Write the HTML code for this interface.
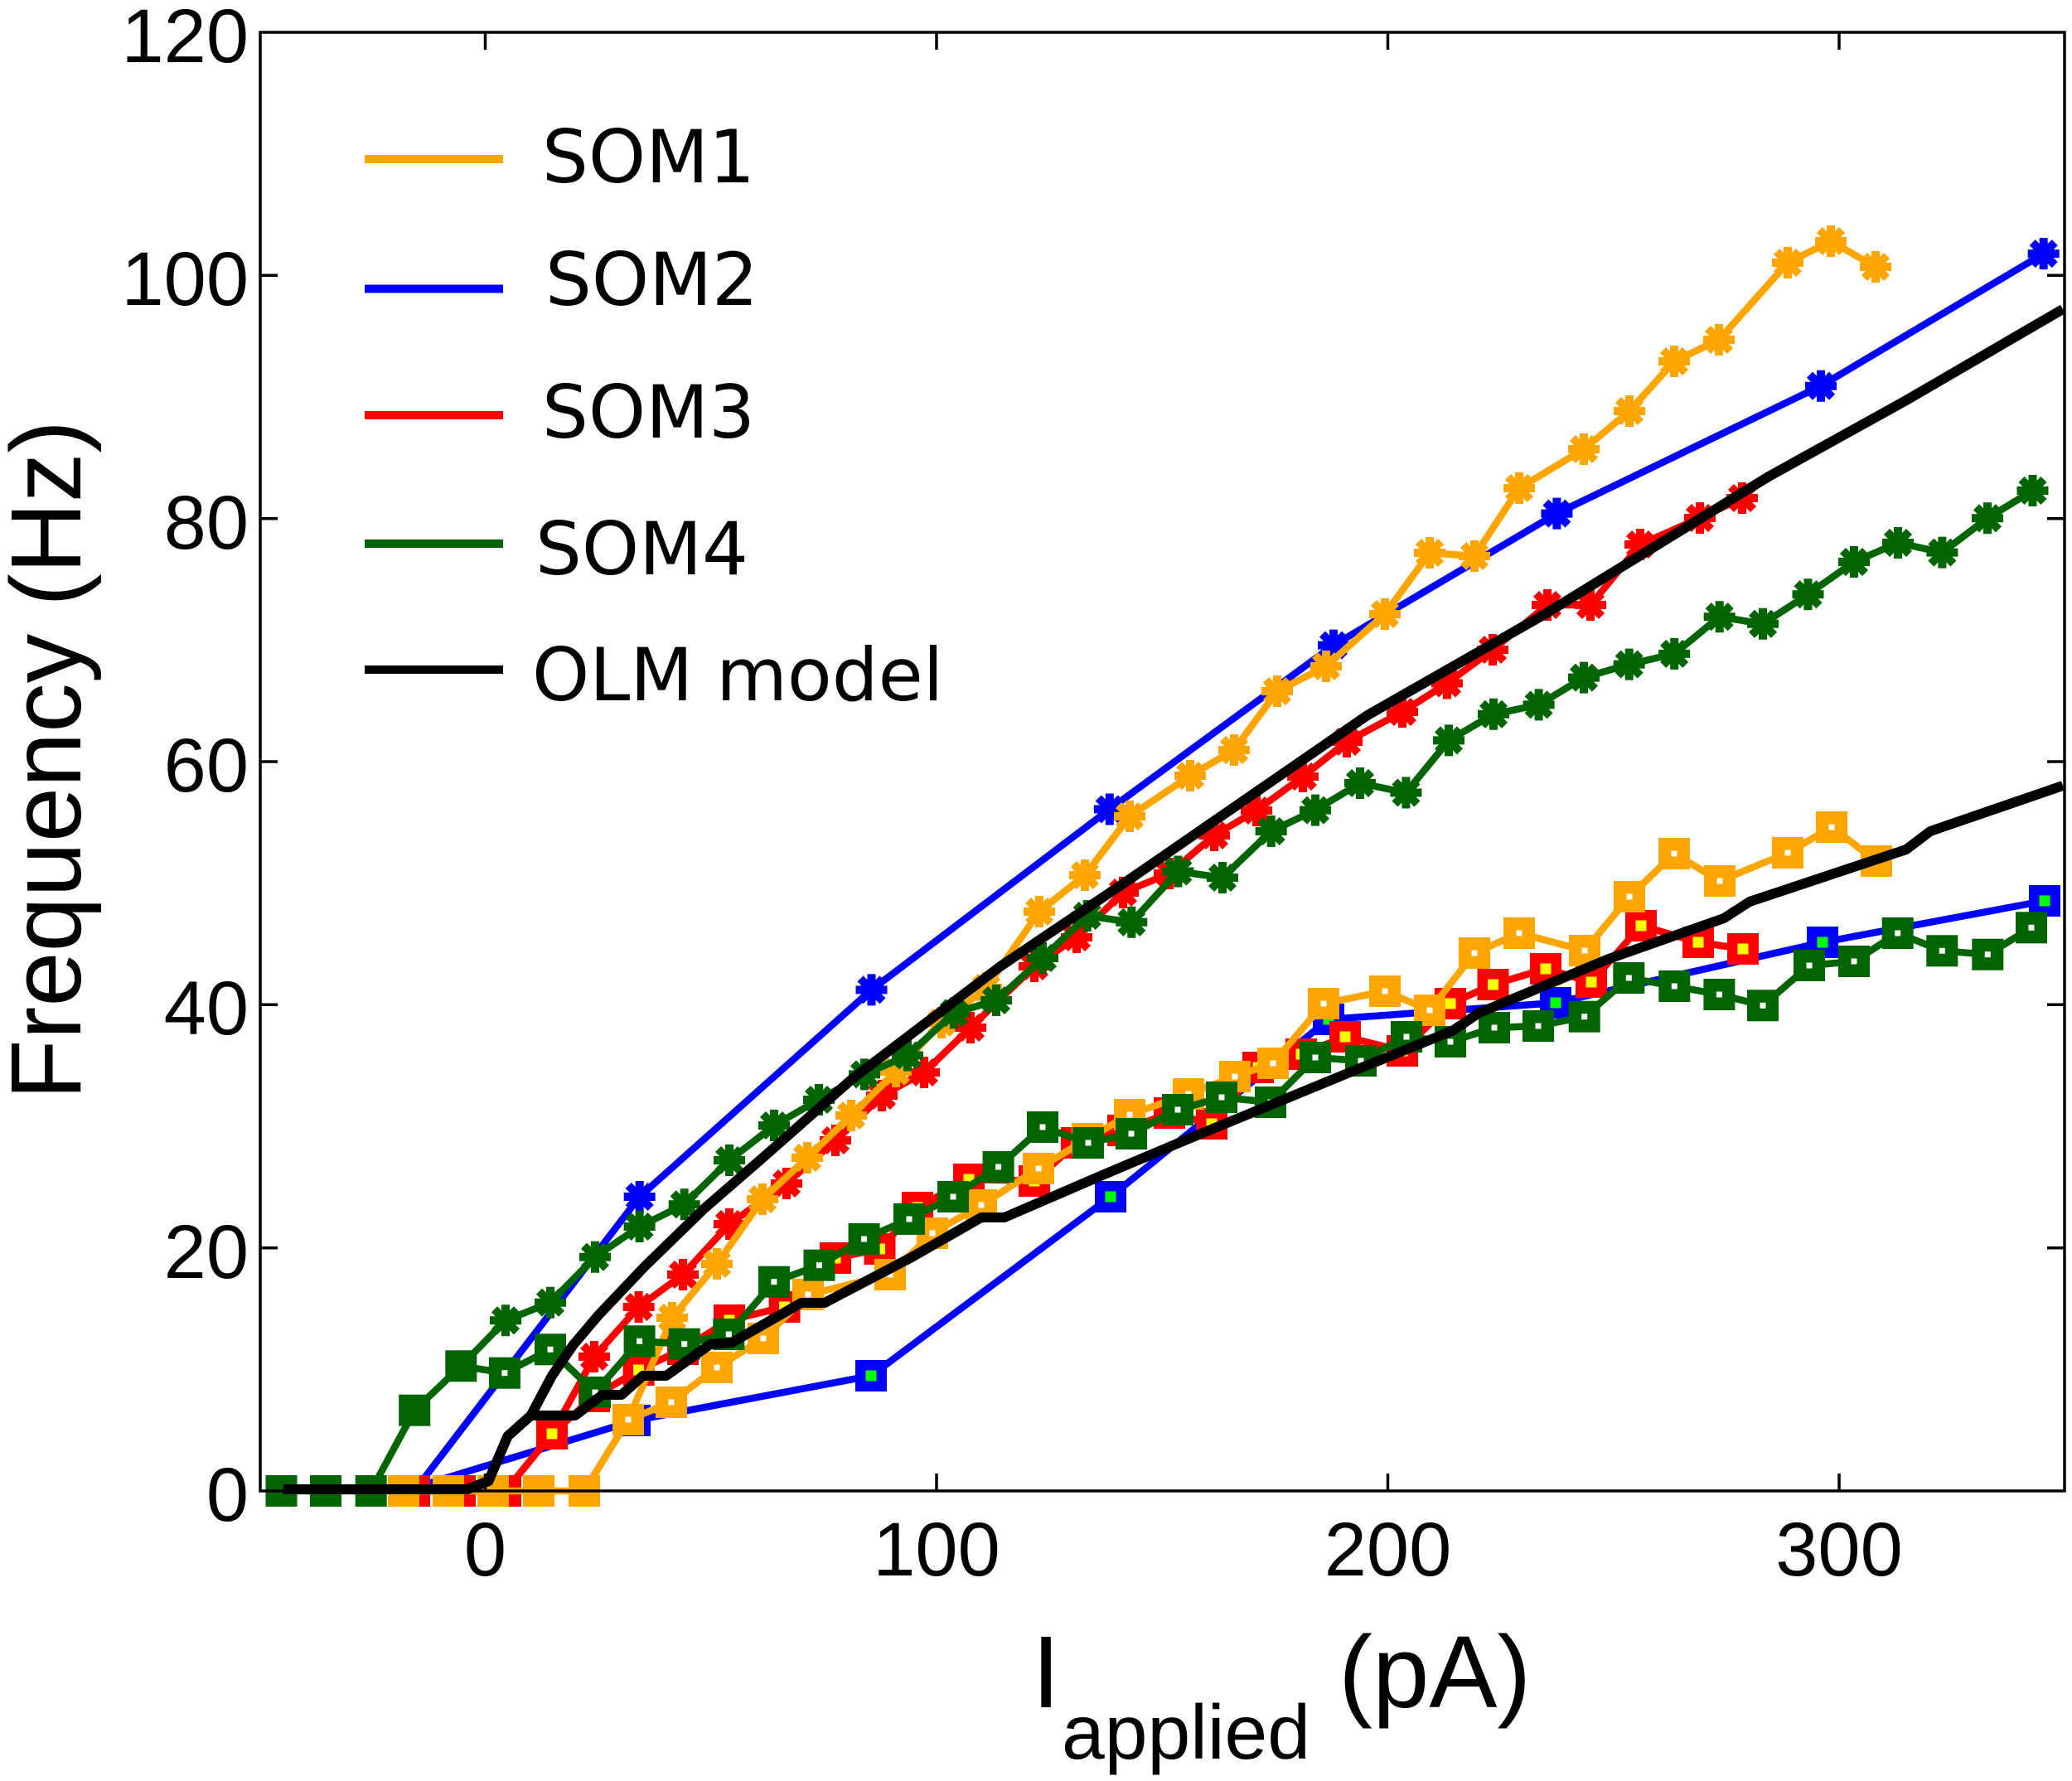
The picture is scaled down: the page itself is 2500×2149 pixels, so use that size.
<!DOCTYPE html>
<html><head><meta charset="utf-8"><style>
html,body{margin:0;padding:0;background:#fff;}
svg{display:block;}
</style></head><body>
<svg xmlns="http://www.w3.org/2000/svg" xmlns:xlink="http://www.w3.org/1999/xlink" width="2500" height="2149" viewBox="0 0 2500 2149">
<defs>
<g id="sqo"><rect x="-19" y="-19" width="38" height="38" fill="#FFA500"/><rect x="-3.5" y="-3.5" width="7" height="7" fill="#ffffff"/></g>
<g id="sqg"><rect x="-19" y="-19" width="38" height="38" fill="#006400"/><rect x="-3.5" y="-3.5" width="7" height="7" fill="#ffffff"/></g>
<g id="sqb"><rect x="-19" y="-19" width="38" height="38" fill="#0000ff"/><rect x="-6.5" y="-6.5" width="13" height="13" fill="#00ff00"/></g>
<g id="sqr"><rect x="-19" y="-19" width="38" height="38" fill="#ff0000"/><rect x="-6.5" y="-6.5" width="13" height="13" fill="#ffff00"/></g>
<rect id="zo" x="-19" y="-19" width="38" height="38" fill="#FFA500"/>
<rect id="zr" x="-19" y="-19" width="38" height="38" fill="#ff0000"/>
<rect id="zb" x="-19" y="-19" width="38" height="38" fill="#0000ff"/>
<rect id="zg" x="-19" y="-19" width="38" height="38" fill="#006400"/>
<g id="sto"><path d="M-19,0H19M0,-19V19M-13.5,-13.5L13.5,13.5M-13.5,13.5L13.5,-13.5" stroke="#FFA500" stroke-width="10"/><circle r="9" fill="#FFA500"/></g>
<g id="stb"><path d="M-19,0H19M0,-19V19M-13.5,-13.5L13.5,13.5M-13.5,13.5L13.5,-13.5" stroke="#0000ff" stroke-width="10"/><circle r="9" fill="#0000ff"/></g>
<g id="str"><path d="M-19,0H19M0,-19V19M-13.5,-13.5L13.5,13.5M-13.5,13.5L13.5,-13.5" stroke="#ff0000" stroke-width="10"/><circle r="9" fill="#ff0000"/></g>
<g id="stg"><path d="M-19,0H19M0,-19V19M-13.5,-13.5L13.5,13.5M-13.5,13.5L13.5,-13.5" stroke="#006400" stroke-width="10"/><circle r="9" fill="#006400"/></g>
</defs>

<!-- ===== SOM2 (blue) ===== -->
<g fill="none" stroke="#0000ff" stroke-width="8.5" stroke-linejoin="round">
<polyline points="487,1799 766,1714 1051,1660 1340,1444 1603,1230 1877,1210 2199,1137 2467,1087"/>
<polyline points="500,1799 771.7,1444 1051.5,1194.4 1338.8,976.5 1609,778.6 1878.4,619.6 2197,465.7 2465.7,306.1"/>
</g>
<use xlink:href="#zb" x="487" y="1799"/>
<use xlink:href="#sqb" x="766" y="1714"/><use xlink:href="#sqb" x="1051" y="1660"/><use xlink:href="#sqb" x="1340" y="1444"/><use xlink:href="#sqb" x="1603" y="1230"/><use xlink:href="#sqb" x="1877" y="1210"/><use xlink:href="#sqb" x="2199" y="1137"/><use xlink:href="#sqb" x="2467" y="1087"/>
<use xlink:href="#stb" x="771.7" y="1444"/><use xlink:href="#stb" x="1051.5" y="1194.4"/><use xlink:href="#stb" x="1338.8" y="976.5"/><use xlink:href="#stb" x="1609" y="778.6"/><use xlink:href="#stb" x="1878.4" y="619.6"/><use xlink:href="#stb" x="2197" y="465.7"/><use xlink:href="#stb" x="2465.7" y="306.1"/>

<!-- ===== SOM3 (red) ===== -->
<g fill="none" stroke="#ff0000" stroke-width="8.5" stroke-linejoin="round">
<polyline points="500,1799 555,1799 610,1799 666,1730 717,1685 770.6,1653 824,1628 880,1593 946.6,1577 1008,1518 1061.5,1507 1107,1457 1169,1423 1248,1425 1299,1379 1355,1364 1411,1343 1462,1356 1518,1288 1570,1272 1623,1251 1692,1268 1750,1211 1801.5,1188 1865,1169 1920,1185 1980,1117 2049,1137 2103,1145"/>
<polyline points="610,1799 666,1730 717,1637 770.6,1577 824,1538 880,1477 949,1428 1008,1376 1064,1322 1115,1294 1171,1240 1248,1166 1299,1131 1355,1077 1411,1054 1465,1008 1516,978 1572,937 1625,895 1692,859 1746,824.5 1801,784 1867,730 1919,730 1979,657 2051,625 2102,601"/>
</g>
<use xlink:href="#zr" x="500" y="1799"/><use xlink:href="#zr" x="555" y="1799"/><use xlink:href="#zr" x="610" y="1799"/>
<use xlink:href="#sqr" x="666" y="1730"/><use xlink:href="#sqr" x="717" y="1685"/><use xlink:href="#sqr" x="770.6" y="1653"/><use xlink:href="#sqr" x="824" y="1628"/><use xlink:href="#sqr" x="880" y="1593"/><use xlink:href="#sqr" x="946.6" y="1577"/><use xlink:href="#sqr" x="1008" y="1518"/><use xlink:href="#sqr" x="1061.5" y="1507"/><use xlink:href="#sqr" x="1107" y="1457"/><use xlink:href="#sqr" x="1169" y="1423"/><use xlink:href="#sqr" x="1248" y="1425"/><use xlink:href="#sqr" x="1299" y="1379"/><use xlink:href="#sqr" x="1355" y="1364"/><use xlink:href="#sqr" x="1411" y="1343"/><use xlink:href="#sqr" x="1462" y="1356"/><use xlink:href="#sqr" x="1518" y="1288"/><use xlink:href="#sqr" x="1570" y="1272"/><use xlink:href="#sqr" x="1623" y="1251"/><use xlink:href="#sqr" x="1692" y="1268"/><use xlink:href="#sqr" x="1750" y="1211"/><use xlink:href="#sqr" x="1801.5" y="1188"/><use xlink:href="#sqr" x="1865" y="1169"/><use xlink:href="#sqr" x="1920" y="1185"/><use xlink:href="#sqr" x="1980" y="1117"/><use xlink:href="#sqr" x="2049" y="1137"/><use xlink:href="#sqr" x="2103" y="1145"/>
<use xlink:href="#str" x="717" y="1637"/><use xlink:href="#str" x="770.6" y="1577"/><use xlink:href="#str" x="824" y="1538"/><use xlink:href="#str" x="880" y="1477"/><use xlink:href="#str" x="949" y="1428"/><use xlink:href="#str" x="1008" y="1376"/><use xlink:href="#str" x="1064" y="1322"/><use xlink:href="#str" x="1115" y="1294"/><use xlink:href="#str" x="1171" y="1240"/><use xlink:href="#str" x="1248" y="1166"/><use xlink:href="#str" x="1299" y="1131"/><use xlink:href="#str" x="1355" y="1077"/><use xlink:href="#str" x="1411" y="1054"/><use xlink:href="#str" x="1465" y="1008"/><use xlink:href="#str" x="1516" y="978"/><use xlink:href="#str" x="1572" y="937"/><use xlink:href="#str" x="1625" y="895"/><use xlink:href="#str" x="1692" y="859"/><use xlink:href="#str" x="1746" y="824.5"/><use xlink:href="#str" x="1801" y="784"/><use xlink:href="#str" x="1867" y="730"/><use xlink:href="#str" x="1919" y="730"/><use xlink:href="#str" x="1979" y="657"/><use xlink:href="#str" x="2051" y="625"/><use xlink:href="#str" x="2102" y="601"/>

<!-- ===== SOM1 (orange) ===== -->
<g fill="none" stroke="#FFA500" stroke-width="8.5" stroke-linejoin="round">
<polyline points="487,1799 541,1799 595,1799 650,1799 705,1799 758,1713 810,1692 865,1650 921,1615 975,1562 1074,1538 1125,1488 1184,1454 1253,1410 1312,1374 1363,1345 1434,1320 1490,1299 1536,1283 1597,1211 1671,1196 1725,1219 1779,1150 1833,1126 1912,1147 1966,1082 2020,1030 2075,1063 2157,1029 2210,998 2264,1039"/>
<polyline points="705,1799 758,1713 811,1590 865,1525 920,1447 974,1397 1027,1346 1081,1293 1136,1234 1190,1192 1254,1100 1309,1056 1363,985 1436,936 1489,905 1541,834 1600,804 1671,741 1725,667 1779,671 1833,589 1911,542 1966,496 2020,436 2074,410 2157,317 2209,291 2263,322"/>
</g>
<use xlink:href="#zo" x="487" y="1799"/><use xlink:href="#zo" x="541" y="1799"/><use xlink:href="#zo" x="595" y="1799"/><use xlink:href="#zo" x="650" y="1799"/><use xlink:href="#zo" x="705" y="1799"/>
<use xlink:href="#sqo" x="758" y="1713"/><use xlink:href="#sqo" x="810" y="1692"/><use xlink:href="#sqo" x="865" y="1650"/><use xlink:href="#sqo" x="921" y="1615"/><use xlink:href="#sqo" x="975" y="1562"/><use xlink:href="#sqo" x="1074" y="1538"/><use xlink:href="#sqo" x="1125" y="1488"/><use xlink:href="#sqo" x="1184" y="1454"/><use xlink:href="#sqo" x="1253" y="1410"/><use xlink:href="#sqo" x="1312" y="1374"/><use xlink:href="#sqo" x="1363" y="1345"/><use xlink:href="#sqo" x="1434" y="1320"/><use xlink:href="#sqo" x="1490" y="1299"/><use xlink:href="#sqo" x="1536" y="1283"/><use xlink:href="#sqo" x="1597" y="1211"/><use xlink:href="#sqo" x="1671" y="1196"/><use xlink:href="#sqo" x="1725" y="1219"/><use xlink:href="#sqo" x="1779" y="1150"/><use xlink:href="#sqo" x="1833" y="1126"/><use xlink:href="#sqo" x="1912" y="1147"/><use xlink:href="#sqo" x="1966" y="1082"/><use xlink:href="#sqo" x="2020" y="1030"/><use xlink:href="#sqo" x="2075" y="1063"/><use xlink:href="#sqo" x="2157" y="1029"/><use xlink:href="#sqo" x="2210" y="998"/><use xlink:href="#sqo" x="2264" y="1039"/>
<use xlink:href="#sto" x="811" y="1590"/><use xlink:href="#sto" x="865" y="1525"/><use xlink:href="#sto" x="920" y="1447"/><use xlink:href="#sto" x="974" y="1397"/><use xlink:href="#sto" x="1027" y="1346"/><use xlink:href="#sto" x="1081" y="1293"/><use xlink:href="#sto" x="1136" y="1234"/><use xlink:href="#sto" x="1190" y="1192"/><use xlink:href="#sto" x="1254" y="1100"/><use xlink:href="#sto" x="1309" y="1056"/><use xlink:href="#sto" x="1363" y="985"/><use xlink:href="#sto" x="1436" y="936"/><use xlink:href="#sto" x="1489" y="905"/><use xlink:href="#sto" x="1541" y="834"/><use xlink:href="#sto" x="1600" y="804"/><use xlink:href="#sto" x="1671" y="741"/><use xlink:href="#sto" x="1725" y="667"/><use xlink:href="#sto" x="1779" y="671"/><use xlink:href="#sto" x="1833" y="589"/><use xlink:href="#sto" x="1911" y="542"/><use xlink:href="#sto" x="1966" y="496"/><use xlink:href="#sto" x="2020" y="436"/><use xlink:href="#sto" x="2074" y="410"/><use xlink:href="#sto" x="2157" y="317"/><use xlink:href="#sto" x="2209" y="291"/><use xlink:href="#sto" x="2263" y="322"/>

<!-- ===== SOM4 (dark green) ===== -->
<g fill="none" stroke="#006400" stroke-width="8.5" stroke-linejoin="round">
<polyline points="339.5,1799 393,1799 447.7,1799 500.2,1701.7 556.3,1648.3 608.9,1656.7 664,1628.3 718,1680 771.6,1618.3 825.7,1621.7 879.3,1610 933.9,1546.7 988.5,1526.7 1042.6,1495 1097,1471 1150,1444 1204.6,1408 1258,1360 1313,1379 1365,1368 1421,1339 1474,1324 1533,1330 1587,1276 1642,1280 1697,1251 1750,1257 1803,1240 1856,1238 1911.7,1226.7 1965.3,1180 2020.3,1190 2074.4,1200 2127,1213.3 2183,1165 2237,1160 2289.7,1126 2343.3,1147.3 2398.3,1151.7 2451,1119.3"/>
<polyline points="556.3,1648.3 610,1593.3 664,1571.7 718,1516.7 771.6,1480 825.7,1453.3 880,1400 934,1358 988,1327 1043,1296.4 1095,1273.5 1151,1222.4 1202,1207 1258,1156 1311.7,1105 1365.3,1112.8 1421.4,1051.5 1475,1059 1533.7,1003 1587,977.6 1641,945 1696.4,956.5 1748,893.4 1802,861.8 1856.6,850.4 1911,817.6 1965.7,801.6 2020.2,788.9 2074.7,744.2 2127,752.8 2181.5,717.2 2237,678 2290,655 2343.4,666.6 2398,625.3 2452.5,592"/>
</g>
<use xlink:href="#zg" x="339.5" y="1799"/><use xlink:href="#zg" x="393" y="1799"/><use xlink:href="#zg" x="447.7" y="1799"/><use xlink:href="#zg" x="500.2" y="1701.7"/><use xlink:href="#zg" x="556.3" y="1648.3"/>
<use xlink:href="#sqg" x="608.9" y="1656.7"/><use xlink:href="#sqg" x="664" y="1628.3"/><use xlink:href="#sqg" x="718" y="1680"/><use xlink:href="#sqg" x="771.6" y="1618.3"/><use xlink:href="#sqg" x="825.7" y="1621.7"/><use xlink:href="#sqg" x="879.3" y="1610"/><use xlink:href="#sqg" x="933.9" y="1546.7"/><use xlink:href="#sqg" x="988.5" y="1526.7"/><use xlink:href="#sqg" x="1042.6" y="1495"/><use xlink:href="#sqg" x="1097" y="1471"/><use xlink:href="#sqg" x="1150" y="1444"/><use xlink:href="#sqg" x="1204.6" y="1408"/><use xlink:href="#sqg" x="1258" y="1360"/><use xlink:href="#sqg" x="1313" y="1379"/><use xlink:href="#sqg" x="1365" y="1368"/><use xlink:href="#sqg" x="1421" y="1339"/><use xlink:href="#sqg" x="1474" y="1324"/><use xlink:href="#sqg" x="1533" y="1330"/><use xlink:href="#sqg" x="1587" y="1276"/><use xlink:href="#sqg" x="1642" y="1280"/><use xlink:href="#sqg" x="1697" y="1251"/><use xlink:href="#sqg" x="1750" y="1257"/><use xlink:href="#sqg" x="1803" y="1240"/><use xlink:href="#sqg" x="1856" y="1238"/><use xlink:href="#sqg" x="1911.7" y="1226.7"/><use xlink:href="#sqg" x="1965.3" y="1180"/><use xlink:href="#sqg" x="2020.3" y="1190"/><use xlink:href="#sqg" x="2074.4" y="1200"/><use xlink:href="#sqg" x="2127" y="1213.3"/><use xlink:href="#sqg" x="2183" y="1165"/><use xlink:href="#sqg" x="2237" y="1160"/><use xlink:href="#sqg" x="2289.7" y="1126"/><use xlink:href="#sqg" x="2343.3" y="1147.3"/><use xlink:href="#sqg" x="2398.3" y="1151.7"/><use xlink:href="#sqg" x="2451" y="1119.3"/>
<use xlink:href="#stg" x="610" y="1593.3"/><use xlink:href="#stg" x="664" y="1571.7"/><use xlink:href="#stg" x="718" y="1516.7"/><use xlink:href="#stg" x="771.6" y="1480"/><use xlink:href="#stg" x="825.7" y="1453.3"/><use xlink:href="#stg" x="880" y="1400"/><use xlink:href="#stg" x="934" y="1358"/><use xlink:href="#stg" x="988" y="1327"/><use xlink:href="#stg" x="1043" y="1296.4"/><use xlink:href="#stg" x="1095" y="1273.5"/><use xlink:href="#stg" x="1151" y="1222.4"/><use xlink:href="#stg" x="1202" y="1207"/><use xlink:href="#stg" x="1258" y="1156"/><use xlink:href="#stg" x="1311.7" y="1105"/><use xlink:href="#stg" x="1365.3" y="1112.8"/><use xlink:href="#stg" x="1421.4" y="1051.5"/><use xlink:href="#stg" x="1475" y="1059"/><use xlink:href="#stg" x="1533.7" y="1003"/><use xlink:href="#stg" x="1587" y="977.6"/><use xlink:href="#stg" x="1641" y="945"/><use xlink:href="#stg" x="1696.4" y="956.5"/><use xlink:href="#stg" x="1748" y="893.4"/><use xlink:href="#stg" x="1802" y="861.8"/><use xlink:href="#stg" x="1856.6" y="850.4"/><use xlink:href="#stg" x="1911" y="817.6"/><use xlink:href="#stg" x="1965.7" y="801.6"/><use xlink:href="#stg" x="2020.2" y="788.9"/><use xlink:href="#stg" x="2074.7" y="744.2"/><use xlink:href="#stg" x="2127" y="752.8"/><use xlink:href="#stg" x="2181.5" y="717.2"/><use xlink:href="#stg" x="2237" y="678"/><use xlink:href="#stg" x="2290" y="655"/><use xlink:href="#stg" x="2343.4" y="666.6"/><use xlink:href="#stg" x="2398" y="625.3"/><use xlink:href="#stg" x="2452.5" y="592"/>

<!-- ===== OLM model (black) ===== -->
<g fill="none" stroke="#000" stroke-width="12" stroke-linejoin="round">
<polyline points="342,1797 564,1797 589.5,1787 612.5,1733 640.5,1708 694,1708 727,1683 750,1683 775.7,1660 803.8,1660 857,1622 883,1620 967,1572 995,1572 1100,1517 1184,1469 1212,1469 1330,1418 1432,1375 1626,1295 1753,1243.5 1784,1222.5 1941,1157 2080,1108 2111,1088 2300,1025 2329,1003 2489,948"/>
<polyline points="342,1797 564,1797 589.5,1787 612.5,1733 640.5,1708 666,1660 691.5,1623 722,1587 778,1528 850,1458 926,1392 1028,1302 1207,1166 1360,1063 1650,863 1864,741 2134,575 2300,483 2489,373"/>
</g>

<!-- ===== Axes frame & ticks ===== -->
<rect x="314" y="39" width="2177" height="1760" fill="none" stroke="#000" stroke-width="3.5"/>
<g stroke="#000" stroke-width="3.5">
<line x1="585.5" y1="1799" x2="585.5" y2="1778"/><line x1="1130" y1="1799" x2="1130" y2="1778"/><line x1="1674.5" y1="1799" x2="1674.5" y2="1778"/><line x1="2219" y1="1799" x2="2219" y2="1778"/>
<line x1="585.5" y1="39" x2="585.5" y2="60"/><line x1="1130" y1="39" x2="1130" y2="60"/><line x1="1674.5" y1="39" x2="1674.5" y2="60"/><line x1="2219" y1="39" x2="2219" y2="60"/>
<line x1="314" y1="1505.7" x2="335" y2="1505.7"/><line x1="314" y1="1212.3" x2="335" y2="1212.3"/><line x1="314" y1="919" x2="335" y2="919"/><line x1="314" y1="625.7" x2="335" y2="625.7"/><line x1="314" y1="332.3" x2="335" y2="332.3"/>
<line x1="2491" y1="1505.7" x2="2470" y2="1505.7"/><line x1="2491" y1="1212.3" x2="2470" y2="1212.3"/><line x1="2491" y1="919" x2="2470" y2="919"/><line x1="2491" y1="625.7" x2="2470" y2="625.7"/><line x1="2491" y1="332.3" x2="2470" y2="332.3"/>
</g>

<!-- tick labels -->
<g font-family="'Liberation Sans', Arial, sans-serif" font-size="92" fill="#000">
<g text-anchor="end">
<text x="300" y="1835">0</text>
<text x="300" y="1542">20</text>
<text x="300" y="1248">40</text>
<text x="300" y="955">60</text>
<text x="300" y="662">80</text>
<text x="300" y="368">100</text>
<text x="300" y="75">120</text>
</g>
<g text-anchor="middle">
<text x="585.5" y="1901">0</text>
<text x="1130" y="1901">100</text>
<text x="1674.5" y="1901">200</text>
<text x="2219" y="1901">300</text>
</g>
</g>

<!-- axis labels -->
<g font-family="'Liberation Sans', Arial, sans-serif" fill="#000">
<text x="1245" y="2060" font-size="123">I</text>
<text x="1281" y="2122" font-size="93">applied</text>
<text x="1615" y="2060" font-size="123">(pA)</text>
<text x="97" y="917" font-size="121" text-anchor="middle" transform="rotate(-90 97 917)" textLength="820" lengthAdjust="spacingAndGlyphs">Frequency (Hz)</text>
</g>

<!-- legend -->
<g stroke-width="10">
<line x1="440" y1="192" x2="607" y2="192" stroke="#FFA500"/>
<line x1="440" y1="348.5" x2="607" y2="348.5" stroke="#0000ff"/>
<line x1="440" y1="501" x2="607" y2="501" stroke="#ff0000"/>
<line x1="440" y1="656" x2="607" y2="656" stroke="#006400"/>
<line x1="440" y1="808" x2="607" y2="808" stroke="#000"/>
</g>
<g font-family="'DejaVu Sans', 'Liberation Sans', sans-serif" font-size="88" fill="#000">
<text x="654" y="220">SOM1</text>
<text x="658" y="368">SOM2</text>
<text x="654" y="528">SOM3</text>
<text x="646" y="693">SOM4</text>
<text x="642" y="845">OLM model</text>
</g>
</svg>
</body></html>
